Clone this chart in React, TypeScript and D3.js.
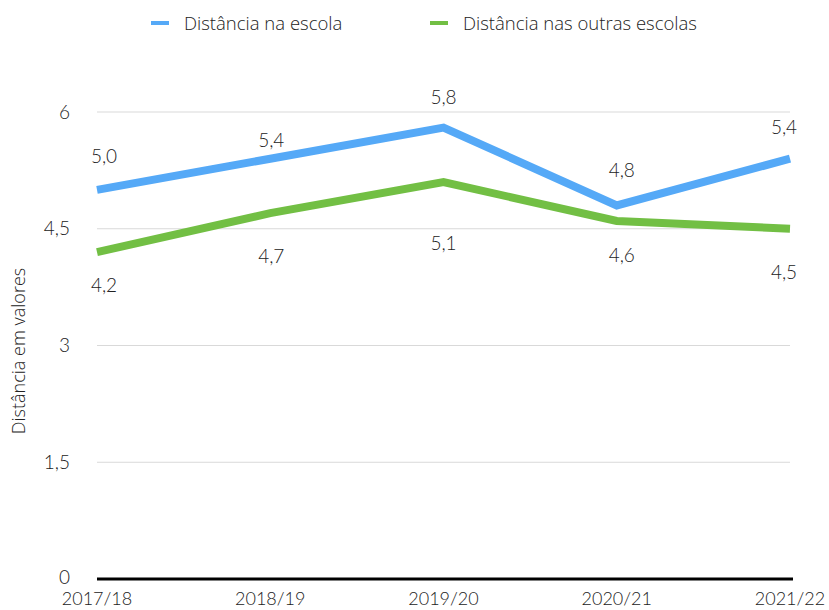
import React from "react";
import * as d3 from "d3";

const categories = ["2017/18", "2018/19", "2019/20", "2020/21", "2021/22"];
const seriesNames = ["Distância na escola", "Distância nas outras escolas"];
const escola = [5.0, 5.4, 5.8, 4.8, 5.4];
const outras = [4.2, 4.7, 5.1, 4.6, 4.5];
const yTicks = [0, 1.5, 3, 4.5, 6];
const escolaLabelDy = [-33, -18, -30, -35, -31];
const outrasLabelDy = [33, 43, 61, 34, 44];
const labelDx = [7, 1, 0, 5, -6];

const W = 829;
const H = 610;
const FONT = "Lato, 'Open Sans', sans-serif";
const FONT2 = "'Open Sans', 'Noto Sans', sans-serif";
const BLUE = "#55a9f7";
const GREEN = "#72bf44";

const fmt = (v: number) => v.toFixed(1).replace(".", ",");
const fmtTick = (v: number) => String(v).replace(".", ",");

export default function App() {
  const x = d3.scalePoint<string>().domain(categories).range([97, 790]);
  const y = d3.scaleLinear().domain([0, 6]).range([579, 112]);
  const line = d3
    .line<number>()
    .x((_, i) => x(categories[i]) as number)
    .y((d) => y(d));

  const series = [
    { name: seriesNames[0], values: escola, color: BLUE, dy: escolaLabelDy },
    { name: seriesNames[1], values: outras, color: GREEN, dy: outrasLabelDy },
  ];

  return (
    <svg width={W} height={H} style={{ position: "absolute", left: 0, top: 0, background: "#fff" }}>
      {yTicks.filter((t) => t > 0).map((t) => (
        <line key={t} x1={97} x2={790} y1={y(t)} y2={y(t)} stroke="#d9d9d9" strokeWidth={1} />
      ))}
      <line x1={97} x2={793} y1={y(0)} y2={y(0)} stroke="#000" strokeWidth={3} />
      {yTicks.map((t) => (
        <text key={t} x={70} y={y(t) - (t === 0 ? 2 : 0)} dy="0.35em" textAnchor="end" fontFamily={FONT} fontWeight={300} fontSize={19} fill="#222">
          {fmtTick(t)}
        </text>
      ))}
      {categories.map((c) => (
        <text
          key={c}
          x={x(c) as number}
          y={605}
          textAnchor="middle"
          fontFamily={FONT}
          fontWeight={300}
          fontSize={18}
          fill="#222"
        >
          {c}
        </text>
      ))}
      <text
        transform={`translate(25,351) rotate(-90)`}
        textAnchor="middle"
        fontFamily={FONT2}
        fontWeight={300}
        fontSize={18}
        fill="#222"
      >
        Distância em valores
      </text>
      {series.map((s) => (
        <path key={s.name} d={line(s.values) as string} fill="none" stroke={s.color} strokeWidth={8} strokeLinejoin="miter" />
      ))}
      {series.map((s) =>
        s.values.map((v, i) => (
          <text
            key={s.name + i}
            x={(x(categories[i]) as number) + labelDx[i]}
            y={y(v) + s.dy[i]}
            dy="0.35em"
            textAnchor="middle"
            fontFamily={FONT}
            fontWeight={300}
            fontSize={19}
            fill="#222"
          >
            {fmt(v)}
          </text>
        ))
      )}
      {series.map((s, i) => {
        const lx = i === 0 ? 151 : 430;
        return (
          <g key={s.name}>
            <line x1={lx} x2={lx + 18} y1={23} y2={23} stroke={s.color} strokeWidth={4} />
            <text x={lx + 33} y={30} fontFamily={FONT2} fontWeight={300} fontSize={18.5} fill="#222">
              {s.name}
            </text>
          </g>
        );
      })}
    </svg>
  );
}
